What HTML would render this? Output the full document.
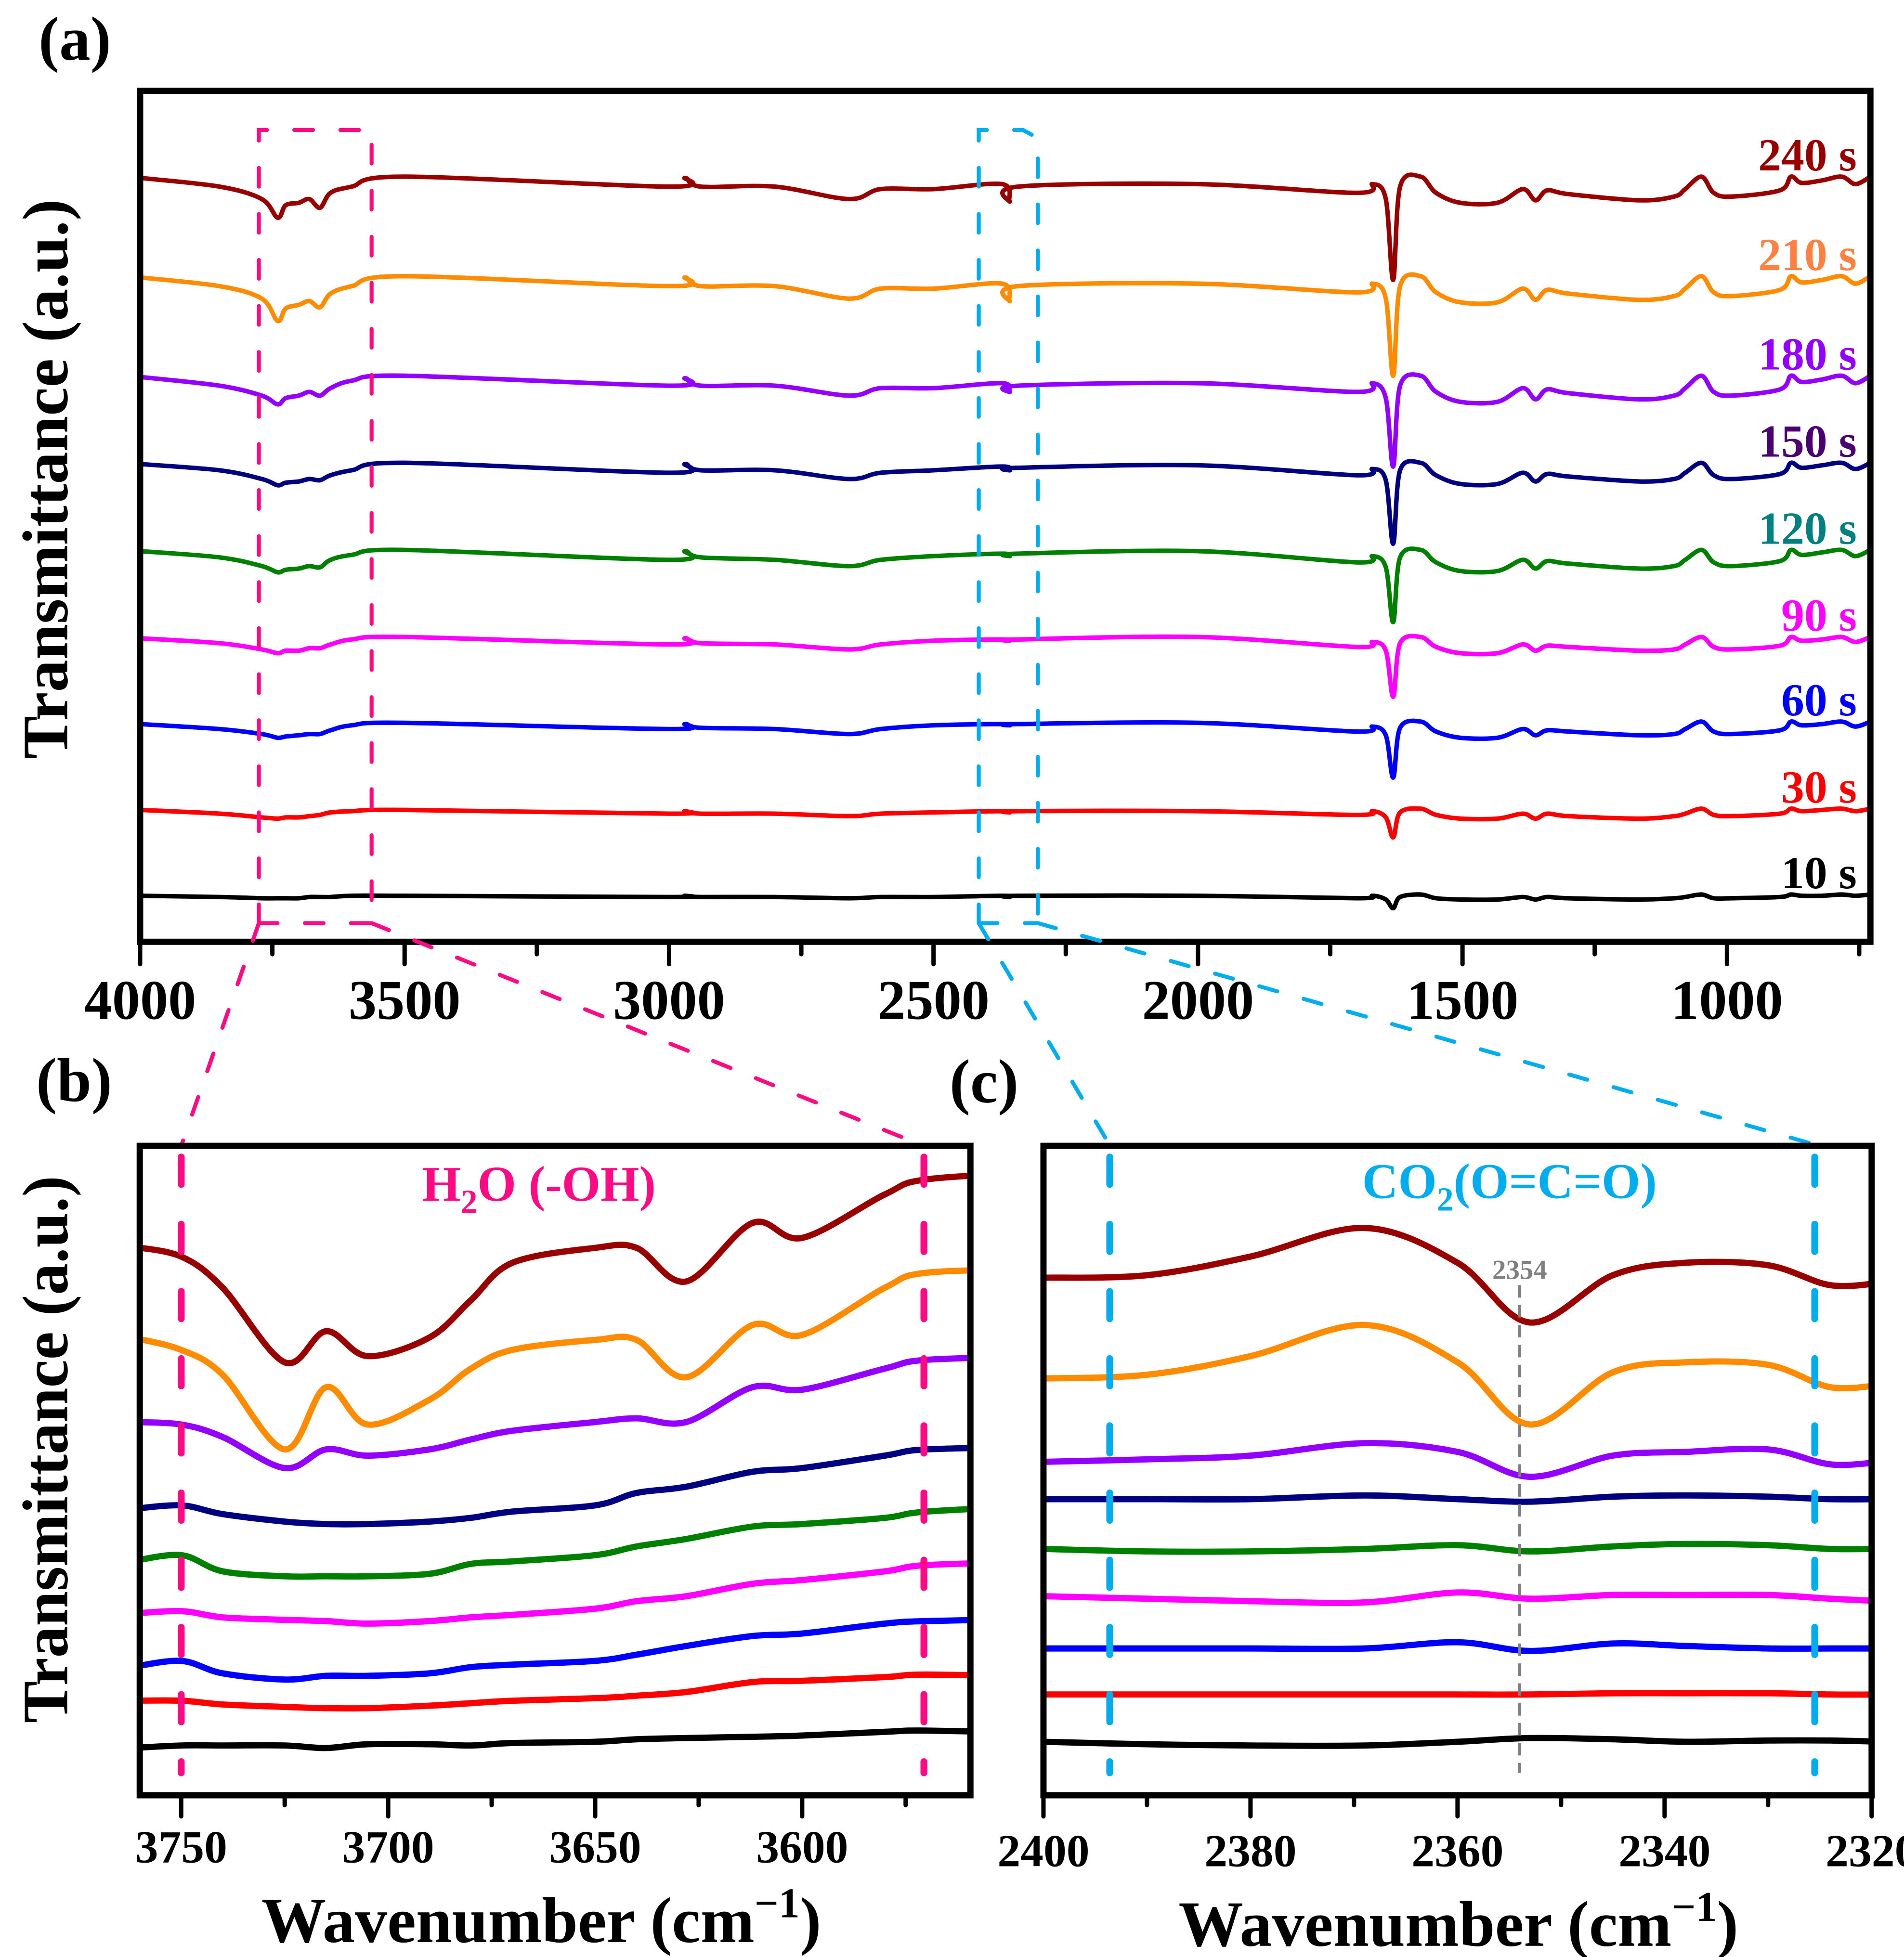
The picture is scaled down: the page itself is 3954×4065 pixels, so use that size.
<!DOCTYPE html>
<html><head><meta charset="utf-8"><style>
html,body{margin:0;padding:0;background:#fff;}
svg{display:block;font-family:"Liberation Serif",serif;font-weight:bold;}
</style></head><body>
<svg id="fig" xmlns="http://www.w3.org/2000/svg" width="3954" height="4065" viewBox="0 0 1530 1573" preserveAspectRatio="none">
<defs>
<clipPath id="clipA"><rect x="112.6" y="73" width="1390.4" height="684"/></clipPath>
<clipPath id="clipB"><rect x="112.3" y="921" width="667.5" height="522"/></clipPath>
<clipPath id="clipC"><rect x="838.5" y="921" width="665.5" height="522"/></clipPath>
</defs>
<g id="layer"></g>
</svg>
<script>
// ---------- data ----------
const seriesNames = ["240 s","210 s","180 s","150 s","120 s","90 s","60 s","30 s","10 s"];
const seriesColors = ["#990000","#ff8c00","#9400ff","#000080","#008000","#ff00ff","#0000ff","#ff0000","#000000"];
const labelColors = ["#990000","#ff8040","#9400ff","#4b0070","#008080","#ff00ff","#0000ff","#ff0000","#000000"];

const wnA = [4000,3850,3770,3740,3725,3700,3680,3660,3640,3600,3500,3000,2970,2940,2800,2660,2600,2500,2370,2356,2340,2000,1700,1670,1645,1631,1618,1579,1550,1504,1434,1386,1362,1340,1300,1166,1100,1079,1048,1025,992,900,879,859,820,783,757,729];
const valA240 = [609,602,592,577,587,589,592,585,597,602,610,602,609,602,602,592,600,600,604,590,602,604,597,604,592,527,602,610,597,589,589,600,591,599,596,591,594,600,610,597,594,599,610,605,607,610,604,610];
const valA210 = [529,522,512,494,504,507,510,505,516,522,530,522,529,522,522,512,520,520,524,510,522,524,517,524,512,450,522,530,517,509,509,520,511,519,516,511,514,520,530,517,514,519,530,525,527,530,524,530];
const valA180 = [449,442,434,427,432,434,437,434,440,446,450,442,448,442,442,434,440,440,444,437,442,444,437,444,432,377,442,450,437,429,429,440,431,439,436,431,434,440,450,437,434,439,450,445,447,450,444,450];
const valA150 = [379,374,367,362,364,365,367,366,370,374,380,372,379,374,374,367,372,374,377,374,376,378,370,375,366,315,374,380,370,363,363,372,365,371,369,365,367,372,380,370,367,371,380,376,378,380,375,380];
const valA120 = [309,304,297,292,294,295,297,296,302,306,310,302,309,304,302,297,302,305,307,305,307,309,300,305,296,252,304,310,300,293,293,302,295,301,299,295,297,302,310,300,297,301,310,306,308,310,305,310];
const valA90 = [239,235,230,227,229,229,231,231,234,238,240,234,239,235,234,230,234,237,238,237,238,240,232,236,229,192,235,240,232,227,227,234,229,233,232,229,230,234,240,232,230,233,240,237,238,240,236,240];
const valA60 = [170,166,162,159,160,161,162,162,165,169,171,166,170,167,166,162,166,169,170,169,170,171,164,168,161,127,167,172,164,159,159,166,161,165,164,161,162,166,172,164,162,165,172,169,170,172,168,172];
const valA30 = [101,98,95,94,95,95,96,97,99,100,101,98,100,98,98,96,98,99,100,99,100,100,97,100,95,79,99,102,97,94,94,98,94,98,96,94,96,98,102,97,96,98,102,100,101,102,100,102];
const valA10 = [32,31,30,30,30,30,31,31,31,32,32,31,32,31,31,30,31,31,32,31,32,32,30,32,29,22,31,33,30,29,29,31,29,31,30,29,30,31,33,30,30,31,33,32,32,33,32,33];
const seriesA = [valA240,valA210,valA180,valA150,valA120,valA90,valA60,valA30,valA10];
const ticksA = [4000,3500,3000,2500,2000,1500,1000];

const wnB = [3762,3750,3740,3725,3715,3705,3690,3680,3670,3650,3640,3628,3612,3600,3580,3570,3541];
const valB240 = [438,430,405,345,370,350,365,395,425,437,437,410,457,445,480,492,498];
const valB210 = [365,355,335,275,325,295,315,340,355,363,363,333,375,367,405,417,420];
const valB180 = [297,295,285,260,275,270,275,283,290,297,300,297,325,323,340,347,350];
const valB150 = [227,230,223,217,215,215,217,220,225,230,240,245,257,260,270,275,277];
const valB120 = [185,190,177,173,173,173,175,183,185,190,197,203,213,215,220,225,230];
const valB90 = [143,145,140,138,137,135,137,140,142,147,153,157,167,170,177,182,185];
const valB60 = [100,105,95,90,93,93,95,100,102,105,110,117,125,127,135,137,139];
const valB30 = [73,73,70,68,67,67,69,71,73,75,77,80,88,89,92,94,92];
const valB10 = [35,37,37,37,35,38,38,37,39,40,42,43,44,45,48,49,47];
const seriesB = [valB240,valB210,valB180,valB150,valB120,valB90,valB60,valB30,valB10];
const ticksB = [3750,3700,3650,3600];
const rangeB = [3750,3570.6];

const wnC = [2400,2390,2380,2369,2360,2353,2345,2338,2330,2324,2319];
const valC240 = [413,415,430,453,425,377,415,425,423,407,409];
const valC210 = [332,335,350,375,345,295,337,345,343,325,327];
const valC180 = [265,267,270,280,273,253,270,273,275,263,265];
const valC150 = [235,235,235,238,235,233,237,238,237,235,235];
const valC120 = [195,193,193,195,198,193,197,199,198,195,195];
const valC90 = [157,155,153,152,160,155,158,158,158,155,153];
const valC60 = [115,115,115,115,120,113,119,117,115,115,115];
const valC30 = [78,78,78,78,78,78,79,79,79,78,78];
const valC10 = [40,38,37,37,40,43,42,40,41,41,40];
const seriesC = [valC240,valC210,valC180,valC150,valC120,valC90,valC60,valC30,valC10];
const ticksC = [2400,2380,2360,2340,2320];
const rangeC = [2393.6,2325.5];
const peakC = 2354;

// ---------- helpers ----------
const NS = "http://www.w3.org/2000/svg";
const root = document.getElementById("layer");
function mk(tag, attrs, parent){ const e=document.createElementNS(NS,tag); for(const k in attrs) e.setAttribute(k,attrs[k]); (parent||root).appendChild(e); return e; }
function lin(d0,d1,r0,r1){ return v => r0 + (v-d0)/(d1-d0)*(r1-r0); }
function smooth(pts){
  let d="M"+pts[0][0].toFixed(2)+","+pts[0][1].toFixed(2);
  for(let i=0;i<pts.length-1;i++){
    const p0=pts[Math.max(0,i-1)],p1=pts[i],p2=pts[i+1],p3=pts[Math.min(pts.length-1,i+2)];
    const c1x=p1[0]+(p2[0]-p0[0])/6,c1y=p1[1]+(p2[1]-p0[1])/6;
    const c2x=p2[0]-(p3[0]-p1[0])/6,c2y=p2[1]-(p3[1]-p1[1])/6;
    d+=" C"+c1x.toFixed(2)+","+c1y.toFixed(2)+" "+c2x.toFixed(2)+","+c2y.toFixed(2)+" "+p2[0].toFixed(2)+","+p2[1].toFixed(2);
  }
  return d;
}
function txt(s,attrs,name){ const t=mk("text",attrs); t.textContent=s;
  
  
  return t; }
function dashed(d,color,w,dash,name){ const p=mk("path",{d:d,fill:"none",stroke:color,"stroke-width":w,"stroke-dasharray":dash,"stroke-linecap":"round"});
    return p; }
const pink="#ff0a84", cyan="#00aeef";

// ---------- panel a ----------
const xA = lin(4000,750,112.6,1494);
const yA = lin(0,680,752,72);
const gA = mk("g",{"clip-path":"url(#clipA)"});


seriesA.forEach((vals,si)=>{
  const p = mk("path",{d:smooth(vals.map((v,i)=>[xA(wnA[i]),yA(v)])),fill:"none",stroke:seriesColors[si],"stroke-width":3.6,"stroke-linejoin":"round"},gA);
  
  
  txt(seriesNames[si],{x:1492,y:yA(vals[vals.length-1])-5,"text-anchor":"end","font-size":37,fill:labelColors[si]},'label-'+seriesNames[si].replace(' ',''));
});
const frA = mk("rect",{x:112.6,y:73,width:1390.4,height:684,fill:"none",stroke:"#000","stroke-width":5});


for(let w=4000; w>=750; w-=250){
  const major = (w%500===0);
  const t = mk("line",{x1:xA(w),x2:xA(w),y1:757,y2:757+(major?18:10),stroke:"#000","stroke-width":3.5,"stroke-linecap":"round"});
  
  
}
ticksA.forEach(w=>txt(String(w),{x:xA(w),y:819,"text-anchor":"middle","font-size":45},'x-tick-label-a'));
txt("Transmittance (a.u.)",{transform:"translate(54,385) rotate(-90)","text-anchor":"middle","font-size":52,textLength:450,lengthAdjust:"spacingAndGlyphs"},'y-axis-title-a');
txt("(a)",{x:31,y:48,"font-size":50},'panel-label-a');

dashed("M208,742 L208,104.5 L298.6,104.5 L298.6,742 M208,742 L298.6,742",pink,3.2,"15,22","zoom-box-oh");
dashed("M208,742 L145.6,921 M298.6,742 L742,921",pink,3.2,"15,22","zoom-connector-oh");
dashed("M786.5,742 L786.5,104.5 L822,104.5 L834,111 L834,742 M786.5,742 L834,742",cyan,3.2,"15,22","zoom-box-co2");
dashed("M786.5,742 L892,921 M834,742 L1462,921",cyan,3.2,"15,22","zoom-connector-co2");

// ---------- panel b ----------
const xB = lin(3750,3600,145.6,644.6);
const yB = lin(0,517,1440,923);
const gB = mk("g",{"clip-path":"url(#clipB)"});


seriesB.forEach((vals,si)=>{
  const p = mk("path",{d:smooth(vals.map((v,i)=>[xB(wnB[i]),yB(v)])),fill:"none",stroke:seriesColors[si],"stroke-width":5,"stroke-linejoin":"round"},gB);
  
  
});
rangeB.forEach((w,i)=>{
  const l = mk("line",{x1:xB(w),x2:xB(w),y1:930,y2:1425,stroke:pink,"stroke-width":5.5,"stroke-dasharray":"22,32","stroke-linecap":"round"});
   
});
const frB = mk("rect",{x:112.3,y:921,width:667.5,height:522,fill:"none",stroke:"#000","stroke-width":5});
 
for(let w=3750; w>=3575; w-=25){
  const major=(w%50===0);
  const t=mk("line",{x1:xB(w),x2:xB(w),y1:1443,y2:1443+(major?17:8),stroke:"#000","stroke-width":3.5,"stroke-linecap":"round"});
   
}
ticksB.forEach(w=>txt(String(w),{x:xB(w),y:1497,"text-anchor":"middle","font-size":37},'x-tick-label-b'));
const tB = txt("",{x:435,y:1561,"text-anchor":"middle","font-size":52},'x-axis-title-b');
tB.innerHTML='Wavenumber (cm<tspan dy="-20" font-size="34">−1</tspan><tspan dy="20">)</tspan>';
txt("Transmittance (a.u.)",{transform:"translate(54,1165) rotate(-90)","text-anchor":"middle","font-size":52,textLength:440,lengthAdjust:"spacingAndGlyphs"},'y-axis-title-b');
txt("(b)",{x:29,y:885,"font-size":50},'panel-label-b');
const hB = txt("",{x:433,y:965,"text-anchor":"middle","font-size":40,fill:pink},'annotation-h2o');
hB.innerHTML='H<tspan dy="10" font-size="27">2</tspan><tspan dy="-10">O (-OH)</tspan>';

// ---------- panel c ----------
const xC = lin(2400,2320,838.5,1504);
const yC = lin(0,517,1440,923);
const gC = mk("g",{"clip-path":"url(#clipC)"});


seriesC.forEach((vals,si)=>{
  const p = mk("path",{d:smooth(vals.map((v,i)=>[xC(wnC[i]),yC(v)])),fill:"none",stroke:seriesColors[si],"stroke-width":5,"stroke-linejoin":"round"},gC);
  
  
});
const gl = mk("line",{x1:xC(peakC),x2:xC(peakC),y1:1033,y2:1425,stroke:"#808080","stroke-width":2.5,"stroke-dasharray":"10,6"});
 
txt(String(peakC),{x:xC(peakC),y:1028,"text-anchor":"middle","font-size":22,fill:"#808080"},'peak-label-2354');
rangeC.forEach((w,i)=>{
  const l = mk("line",{x1:xC(w),x2:xC(w),y1:930,y2:1425,stroke:cyan,"stroke-width":5.5,"stroke-dasharray":"22,32","stroke-linecap":"round"});
   
});
const frC = mk("rect",{x:838.5,y:921,width:665.5,height:522,fill:"none",stroke:"#000","stroke-width":5});
 
for(let w=2400; w>=2320; w-=10){
  const major=(w%20===0);
  const t=mk("line",{x1:xC(w),x2:xC(w),y1:1443,y2:1443+(major?17:8),stroke:"#000","stroke-width":3.5,"stroke-linecap":"round"});
   
}
ticksC.forEach(w=>txt(String(w),{x:xC(w),y:1500,"text-anchor":"middle","font-size":37},'x-tick-label-c'));
const tC = txt("",{x:1172,y:1564,"text-anchor":"middle","font-size":52},'x-axis-title-c');
tC.innerHTML='Wavenumber (cm<tspan dy="-20" font-size="34">−1</tspan><tspan dy="20">)</tspan>';
txt("(c)",{x:763,y:886,"font-size":50},'panel-label-c');
const hC = txt("",{x:1213,y:963,"text-anchor":"middle","font-size":40,fill:cyan},'annotation-co2');
hC.innerHTML='CO<tspan dy="10" font-size="27">2</tspan><tspan dy="-10">(O=C=O)</tspan>';
</script>
</body></html>
